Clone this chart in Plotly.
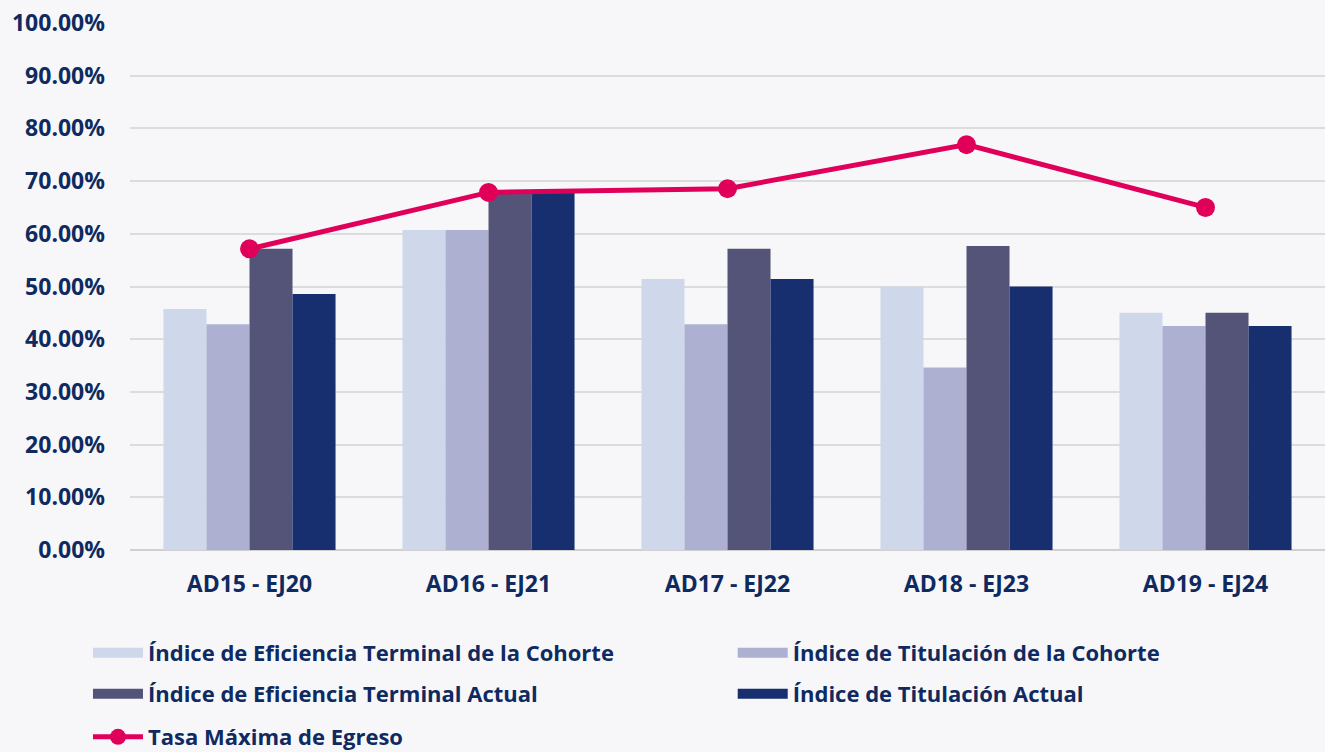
import plotly.graph_objects as go

categories = ["AD15 - EJ20", "AD16 - EJ21", "AD17 - EJ22", "AD18 - EJ23", "AD19 - EJ24"]
eficiencia_cohorte = [0.4571, 0.6071, 0.5143, 0.5000, 0.4500]
titulacion_cohorte = [0.4286, 0.6071, 0.4286, 0.3462, 0.4250]
eficiencia_actual = [0.5714, 0.6786, 0.5714, 0.5769, 0.4500]
titulacion_actual = [0.4857, 0.6786, 0.5143, 0.5000, 0.4250]
tasa_maxima = [0.5714, 0.6786, 0.6857, 0.7692, 0.6500]

names = ["Índice de Eficiencia Terminal de la Cohorte", "Índice de Titulación de la Cohorte",
         "Índice de Eficiencia Terminal Actual", "Índice de Titulación Actual",
         "Tasa Máxima de Egreso"]
colors = ["#cfd8ea", "#adb0d1", "#545479", "#172f6e"]
legend_ids = ["legend", "legend2", "legend3", "legend4", "legend5"]

FONT = "Open Sans"
TXT = "#0f2a60"

fig = go.Figure()
for i, (vals, name, col, lg) in enumerate(zip(
        [eficiencia_cohorte, titulacion_cohorte, eficiencia_actual, titulacion_actual],
        names[:4], colors, legend_ids[:4])):
    fig.add_trace(go.Bar(x=categories, y=vals, name=name, marker_color=col,
                         marker_line_width=0, legendgroup=f"g{i}", showlegend=False))
    # legend swatch (wide rectangle like the original)
    fig.add_trace(go.Scatter(x=[None], y=[None], mode="lines", name=name,
                             line=dict(color=col, width=14), legendgroup=f"g{i}",
                             legend=lg, showlegend=True, hoverinfo="skip"))
fig.add_trace(go.Scatter(x=categories, y=tasa_maxima, name=names[4], mode="lines+markers",
                         line=dict(color="#e0005a", width=5),
                         marker=dict(size=19, color="#e0005a"), legend="legend5", showlegend=True))

def leg(x, y):
    return dict(orientation="h", xanchor="left", yanchor="middle", x=x, y=y,
                xref="container", yref="container",
                font=dict(family=FONT, size=22, color=TXT, weight="bold"),
                bgcolor="rgba(0,0,0,0)", itemwidth=50, visible=True)

col1, col2 = 0.0664, 0.553
row1, row2, row3 = 0.1316, 0.0771, 0.0199

fig.update_layout(
    width=1325, height=752,
    showlegend=True,
    margin=dict(l=130, r=0, t=23, b=202, autoexpand=False),
    paper_bgcolor="#f7f7f9", plot_bgcolor="rgba(0,0,0,0)",
    barmode="group", bargap=0.28, bargroupgap=0,
    font=dict(family=FONT, color=TXT),
    legend=leg(col1, row1), legend2=leg(col2, row1),
    legend3=leg(col1, row2), legend4=leg(col2, row2),
    legend5=leg(col1, row3),
    xaxis=dict(tickfont=dict(family=FONT, size=23, color=TXT, weight="bold"),
               showline=False, ticks="", ticklabelstandoff=18, automargin=False),
    yaxis=dict(range=[0, 1.0], dtick=0.1, tickformat=".2%",
               tickfont=dict(family=FONT, size=23, color=TXT, weight="bold"),
               gridcolor="#dcdcdc", gridwidth=2, zeroline=True, zerolinecolor="#d0d0d0",
               zerolinewidth=2, ticklabelstandoff=24, automargin=False),
)

fig.write_html("out.html", config={"displayModeBar": False},
               post_script="document.body.style.margin='0';")
